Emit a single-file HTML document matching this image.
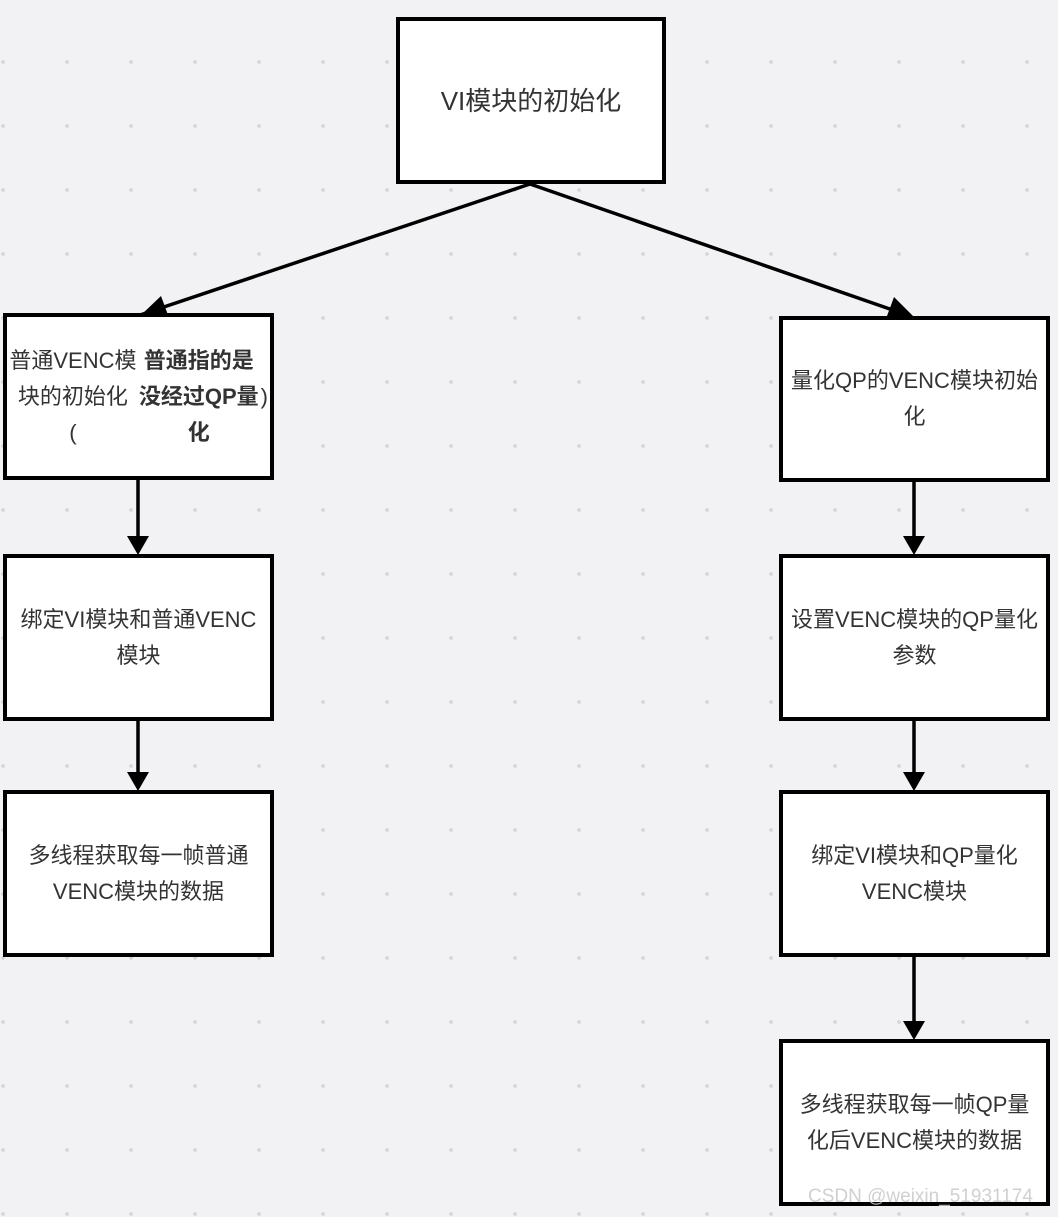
<!DOCTYPE html>
<html><head><meta charset="utf-8"><style>
body{margin:0;width:1058px;height:1217px;overflow:hidden;background:#f2f2f4;
background-image:radial-gradient(circle,#d4d4d8 1.6px,transparent 2px);background-size:64px 64px;background-position:-29px 30px;position:relative;
font-family:"Liberation Sans","Noto Sans CJK SC",sans-serif;color:#333}
.b{position:absolute;box-sizing:border-box;border:4px solid #000;background:#fff;display:flex;align-items:center;justify-content:center;text-align:center;font-size:22px;line-height:36px;padding:0 2px}
svg{position:absolute;left:0;top:0}
</style></head><body>
<svg width="1058" height="1217">
<defs><marker id="a" markerWidth="8" markerHeight="8" refX="7" refY="4" orient="auto" markerUnits="userSpaceOnUse" viewBox="0 0 8 8"><path d="M0,0 L8,4 L0,8z" fill="#000"/></marker></defs>
<g stroke="#000" stroke-width="3.5" fill="none">
<line x1="530" y1="184" x2="140" y2="315"/>
<line x1="530" y1="184" x2="910" y2="316"/>
<line x1="138" y1="479" x2="138" y2="540"/>
<line x1="138" y1="720" x2="138" y2="776"/>
<line x1="914" y1="481" x2="914" y2="540"/>
<line x1="914" y1="720" x2="914" y2="776"/>
<line x1="914" y1="956" x2="914" y2="1024"/>
</g>
<g fill="#000">
<path d="M140,316 L161,296 L168,315z"/>
<path d="M915,318 L887,316 L894,297z"/>
<path d="M127,536 L149,536 L138,555z"/>
<path d="M127,772 L149,772 L138,791z"/>
<path d="M903,536 L925,536 L914,555z"/>
<path d="M903,772 L925,772 L914,791z"/>
<path d="M903,1021 L925,1021 L914,1040z"/>
</g>
</svg>
<div class="b" style="left:396px;top:17px;width:270px;height:167px;font-size:26px">VI模块的初始化</div>
<div class="b" style="left:3px;top:313px;width:271px;height:167px">普通VENC模块的初始化<br>(<b>普通指的是没经过QP量<br>化</b>)</div>
<div class="b" style="left:3px;top:554px;width:271px;height:167px">绑定VI模块和普通VENC<br>模块</div>
<div class="b" style="left:3px;top:790px;width:271px;height:167px">多线程获取每一帧普通<br>VENC模块的数据</div>
<div class="b" style="left:779px;top:316px;width:271px;height:166px">量化QP的VENC模块初始<br>化</div>
<div class="b" style="left:779px;top:554px;width:271px;height:167px">设置VENC模块的QP量化<br>参数</div>
<div class="b" style="left:779px;top:790px;width:271px;height:167px">绑定VI模块和QP量化<br>VENC模块</div>
<div class="b" style="left:779px;top:1039px;width:271px;height:167px">多线程获取每一帧QP量<br>化后VENC模块的数据</div>
<div style="position:absolute;left:808px;top:1186px;font-size:19px;color:rgba(200,200,200,0.85);white-space:nowrap">CSDN @weixin_51931174</div>
</body></html>
